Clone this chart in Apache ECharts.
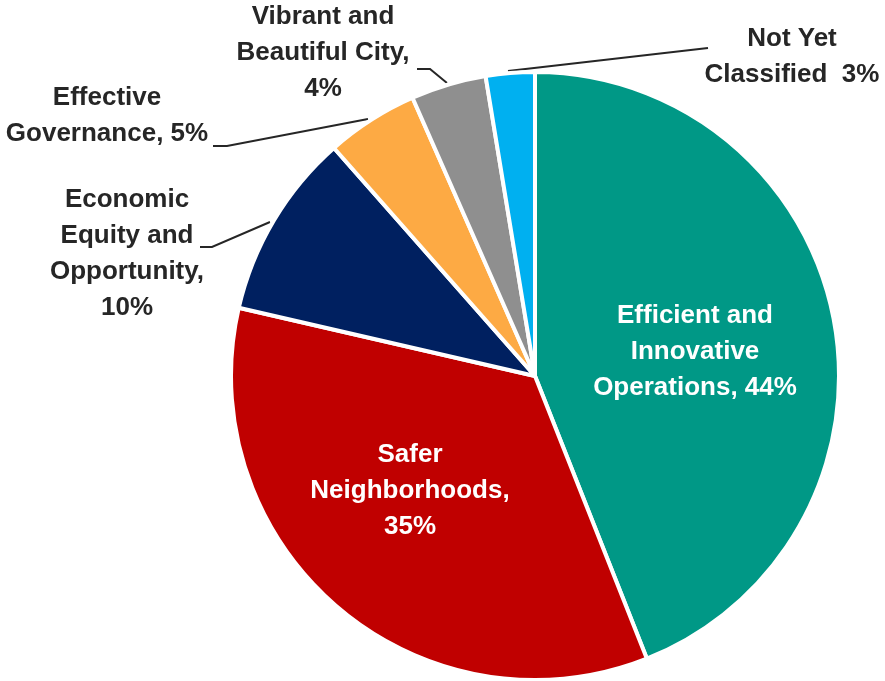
<!DOCTYPE html>
<html>
<head>
<meta charset="utf-8">
<title>Pie</title>
<style>
  html, body { margin: 0; padding: 0; background: #fff; }
  #main { width: 885px; height: 681px; }
</style>
</head>
<body>
<div id="main"></div>
<script src="https://cdn.jsdelivr.net/npm/echarts@6/dist/echarts.min.js"></script>
<script>
// slices, clockwise from 12 o'clock
var categories = ['Efficient and Innovative Operations', 'Safer Neighborhoods', 'Economic Equity and Opportunity',
  'Effective Governance', 'Vibrant and Beautiful City', 'Not Yet Classified'];
var values = [44.0, 34.6, 9.9, 4.9, 4.0, 2.6];
// how each label breaks into lines ({p} = percent)
var labelText = [
  'Efficient and\nInnovative\nOperations, {p}%',
  'Safer\nNeighborhoods,\n{p}%',
  'Economic\nEquity and\nOpportunity,\n{p}%',
  'Effective\nGovernance, {p}%',
  'Vibrant and\nBeautiful City,\n{p}%',
  'Not Yet\nClassified  {p}%'
];
var colors = ['#009886', '#c00000', '#002060', '#fdaa44', '#8f8f8f', '#00b0f0'];

var total = values.reduce(function (a, b) { return a + b; }, 0);
var font = "'Liberation Sans', Arial, sans-serif";

// label centres and leader lines (pixels)
var spots = [
  { x: 695, y: 352 },
  { x: 410, y: 491 },
  { x: 127, y: 254, line: [[270, 222], [212, 247], [200, 247]] },
  { x: 107, y: 116, line: [[368, 119], [227, 146], [213, 146]] },
  { x: 323, y: 53, line: [[447, 83], [430, 69], [417, 69]] },
  { x: 792, y: 57, line: [[508, 71], [608, 59.5], [708, 48]] }
];

var myChart = echarts.init(document.getElementById('main'));

var pieData = categories.map(function (name, i) {
  var inside = i < 2;
  return {
    name: name,
    value: values[i],
    itemStyle: { color: colors[i] },
    label: {
      position: inside ? 'inside' : 'outside',
      color: inside ? '#ffffff' : '#262626'
    },
    labelLine: { show: !inside }
  };
});

myChart.setOption({
  animation: false,
  series: [{
    type: 'pie',
    center: [535, 376],
    radius: 304,
    startAngle: 90,
    clockwise: true,
    avoidLabelOverlap: false,
    itemStyle: { borderColor: '#ffffff', borderWidth: 4 },
    label: {
      fontFamily: font,
      fontWeight: 'bold',
      fontSize: 26,
      lineHeight: 36,
      align: 'center',
      formatter: function (p) {
        return labelText[p.dataIndex].replace('{p}', Math.round(p.value / total * 100));
      }
    },
    labelLine: {
      lineStyle: { color: '#262626', width: 2 }
    },
    labelLayout: function (p) {
      var s = spots[p.dataIndex];
      var out = { x: s.x, y: s.y, align: 'center', verticalAlign: 'middle' };
      if (s.line) out.labelLinePoints = s.line;
      return out;
    },
    data: pieData
  }]
});
</script>
</body>
</html>
